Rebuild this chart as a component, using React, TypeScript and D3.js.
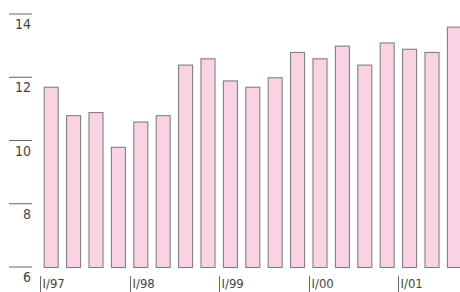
import React from 'react';
import * as d3 from 'd3';

// quarterly values, I/97 .. III/01
const quarters = [
  'I/97', 'II/97', 'III/97', 'IV/97',
  'I/98', 'II/98', 'III/98', 'IV/98',
  'I/99', 'II/99', 'III/99', 'IV/99',
  'I/00', 'II/00', 'III/00', 'IV/00',
  'I/01', 'II/01', 'III/01',
];
const values = [11.7, 10.8, 10.9, 9.8, 10.6, 10.8, 12.4, 12.6, 11.9, 11.7, 12.0, 12.8, 12.6, 13.0, 12.4, 13.1, 12.9, 12.8, 13.6];
const yTicks = [6, 8, 10, 12, 14];
const xLabels = ['I/97', 'I/98', 'I/99', 'I/00', 'I/01'];

const W = 460;
const H = 292;
const FONT = '"Liberation Sans Narrow", "DejaVu Sans Condensed", "Open Sans", sans-serif';

const App = () => {
  const x = d3.scaleBand<string>()
    .domain(quarters)
    .range([40, 40 + quarters.length * 22.4])
    .paddingInner(0.33)
    .paddingOuter(0.165);
  const y = d3.scaleLinear().domain([6, 14]).range([267, 14]);
  const gap = x.step() * x.paddingInner() / 2;

  return (
    <svg width={W} height={H} style={{ position: 'absolute', left: 0, top: 0 }} fontFamily={FONT}>
      {/* y axis: short lines with the value underneath */}
      {yTicks.map((t) => (
        <g key={t}>
          <line x1={9} x2={32} y1={y(t)} y2={y(t)} stroke="#666" strokeWidth={1} />
          <text x={31} y={y(t) + 15} textAnchor="end" fontSize={14} fill="#444">{t}</text>
        </g>
      ))}

      {values.map((v, i) => (
        <rect
          key={quarters[i]}
          x={x(quarters[i])! + 0.5}
          y={y(v) + 0.5}
          width={x.bandwidth() - 1}
          height={y(6) - y(v)}
          fill="#f9d3e4"
          stroke="#808080"
          strokeWidth={1.1}
        />
      ))}

      {xLabels.map((l) => {
        const px = Math.round(x(l)! - gap) + 0.5;
        return (
          <g key={l}>
            <line x1={px} x2={px} y1={276} y2={292} stroke="#666" strokeWidth={1} />
            <text x={px + 2} y={288} fontSize={13} fill="#444">{l}</text>
          </g>
        );
      })}
    </svg>
  );
};

export default App;
